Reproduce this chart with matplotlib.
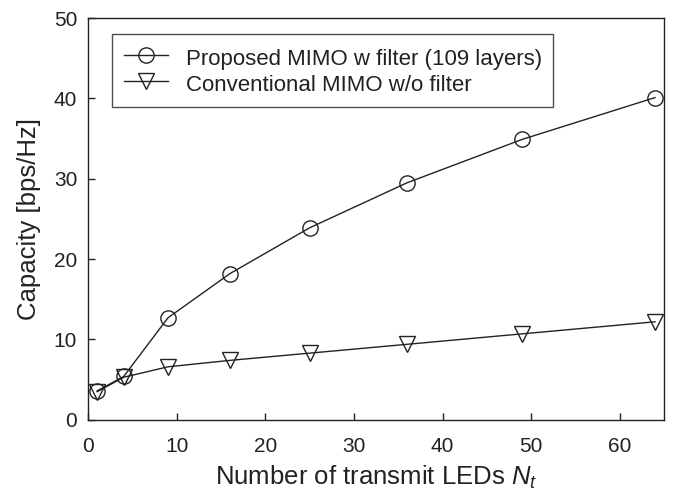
import matplotlib
matplotlib.use('Agg')
import matplotlib.pyplot as plt

plt.rcParams['font.family'] = ['Liberation Sans', 'DejaVu Sans']
plt.rcParams['mathtext.fontset'] = 'custom'
plt.rcParams['mathtext.rm'] = 'Liberation Sans'
plt.rcParams['mathtext.it'] = 'Liberation Sans:italic'

# data
n_leds = [1, 4, 9, 16, 25, 36, 49, 64]
proposed = [3.6, 5.4, 12.7, 18.2, 23.9, 29.5, 34.9, 40.1]
conventional = [3.5, 5.3, 6.6, 7.4, 8.3, 9.4, 10.7, 12.2]

text_color = '#222222'

fig = plt.figure(figsize=(6.74, 5.01), dpi=100)
ax = fig.add_axes([0.131, 0.162, 0.854, 0.802])

ax.plot(n_leds, proposed, color='#222222', lw=1.0, marker='o', ms=11,
        mfc='none', mec='#222222', mew=1.0,
        label='Proposed MIMO w filter (109 layers)')
ax.plot(n_leds, conventional, color='#222222', lw=1.0, marker='v', ms=11,
        mfc='none', mec='#222222', mew=1.0,
        label='Conventional MIMO w/o filter')

ax.set_xlim(0, 65)
ax.set_ylim(0, 50)
ax.set_xticks([0, 10, 20, 30, 40, 50, 60])
ax.set_yticks([0, 10, 20, 30, 40, 50])
ax.tick_params(direction='in', length=5, width=1, labelsize=15,
               colors=text_color)
ax.tick_params(axis='x', pad=12)
ax.tick_params(axis='y', pad=8)
for s in ax.spines.values():
    s.set_color('#222222')
    s.set_linewidth(1.0)

ax.set_xlabel('Number of transmit LEDs $N_t$', fontsize=18.5,
              color=text_color, labelpad=6)
ax.set_ylabel('Capacity [bps/Hz]', fontsize=18.5, color=text_color, labelpad=9)

leg = ax.legend(loc='upper left', bbox_to_anchor=(0.042, 0.96), fontsize=16,
                frameon=True, fancybox=False, edgecolor='#222222',
                borderaxespad=0, handlelength=2.0, borderpad=0.5,
                handleheight=1.35, labelspacing=0.05, handletextpad=0.8)
leg.get_frame().set_linewidth(1.0)
for t in leg.get_texts():
    t.set_color(text_color)

fig.savefig('out.png', dpi=100)
